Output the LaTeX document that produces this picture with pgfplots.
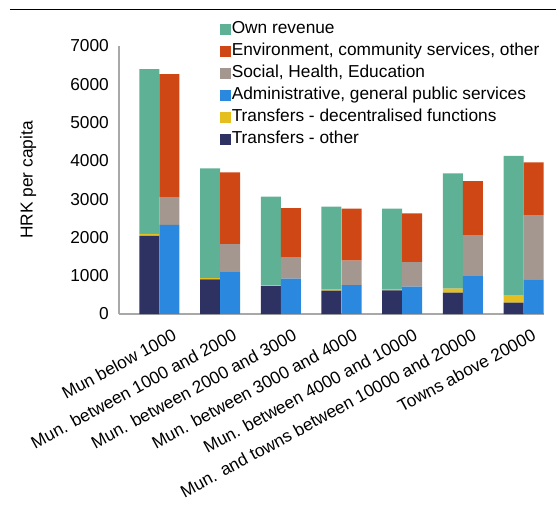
\documentclass[border=0pt]{standalone}
\usepackage{pgfplots}
\pgfplotsset{compat=1.18}
\usepackage{pgfplotstable}
\usepackage{fontspec}
\setmainfont{Liberation Sans}
\usetikzlibrary{calc}
\definecolor{cgreen}{HTML}{5FB195}
\definecolor{corange}{HTML}{CF4715}
\definecolor{cgray}{HTML}{A39790}
\definecolor{cblue}{HTML}{2A89DE}
\definecolor{cyellow}{HTML}{E5BF20}
\definecolor{cnavy}{HTML}{2D3262}
\definecolor{caxis}{HTML}{A8A8A8}
\newcommand\cf{\fontsize{17.3bp}{20bp}\selectfont}

\pgfplotstableread{
x other dec own
0.5 2040 55 4300
1.5 905 35 2865
2.5 730 27 2306
3.5 610 25 2167
4.5 620 33 2097
5.5 557 104 3012
6.5 296 200 3637
}\lefttab
\pgfplotstableread{
x adm soc env
0.83 2330 725 3210
1.83 1115 713 1872
2.83 922 566 1280
3.83 757 635 1358
4.83 714 644 1271
5.83 992 1071 1410
6.83 906 1679 1375
}\righttab

\pgfplotsset{common/.style={
  scale only axis, width=425bp, height=268bp,
  xmin=0, xmax=7, ymin=0, ymax=7000,
  ybar stacked, bar width=20bp,
  at={(0,0)}, anchor=south west,
}}

\begin{document}
\begin{tikzpicture}
\begin{axis}[common, name=ax,
  axis x line*=bottom, axis y line*=left,
  axis line style={draw=caxis, line width=1.2bp},
  major tick length=0pt,
  ytick={0,1000,...,7000},
  scaled y ticks=false,
  /pgf/number format/set thousands separator={},
  /pgf/number format/assume math mode=true,
  yticklabel style={font=\cf, inner sep=0pt, xshift=-10bp},
  xtick={0.87,1.86,2.85,3.85,4.84,5.81,6.79},
  xticklabels={Mun below 1000, Mun. between 1000 and 2000, Mun. between 2000 and 3000, Mun. between 3000 and 4000, Mun. between 4000 and 10000, Mun. and towns between 10000 and 20000, Towns above 20000},
  xticklabel style={font=\cf, inner sep=0pt, yshift=-14bp, rotate=28.5, anchor=north east},
  ylabel={HRK per capita},
  ylabel style={font=\cf, at={(axis description cs:-0.214,0.5)}, anchor=center},
]
\addplot[fill=cnavy, draw=none] table[x=x, y=other]{\lefttab};
\addplot[fill=cyellow, draw=none] table[x=x, y=dec]{\lefttab};
\addplot[fill=cgreen, draw=none] table[x=x, y=own]{\lefttab};
\end{axis}
\begin{axis}[common, hide axis,
  legend style={at={(0.238,1.101)}, anchor=north west, draw=none, fill=none,
    font=\cf, inner sep=0pt, row sep=2.5bp,
    nodes={inner sep=1bp, text height=13bp, text depth=4.5bp}},
  legend cell align=left,
]
\addlegendimage{legend image code/.code={\fill[cgreen] (0bp,-5bp) rectangle (10bp,5bp);}}
\addlegendentry{Own revenue}
\addlegendimage{legend image code/.code={\fill[corange] (0bp,-5bp) rectangle (10bp,5bp);}}
\addlegendentry{Environment, community services, other}
\addlegendimage{legend image code/.code={\fill[cgray] (0bp,-5bp) rectangle (10bp,5bp);}}
\addlegendentry{Social, Health, Education}
\addlegendimage{legend image code/.code={\fill[cblue] (0bp,-5bp) rectangle (10bp,5bp);}}
\addlegendentry{Administrative, general public services}
\addlegendimage{legend image code/.code={\fill[cyellow] (0bp,-5bp) rectangle (10bp,5bp);}}
\addlegendentry{Transfers - decentralised functions}
\addlegendimage{legend image code/.code={\fill[cnavy] (0bp,-5bp) rectangle (10bp,5bp);}}
\addlegendentry{Transfers - other}
\addplot[forget plot, fill=cblue, draw=none] table[x=x, y=adm]{\righttab};
\addplot[forget plot, fill=cgray, draw=none] table[x=x, y=soc]{\righttab};
\addplot[forget plot, fill=corange, draw=none] table[x=x, y=env]{\righttab};
\end{axis}
\draw[black, line width=1.2bp] ($(ax.south west)+(-109bp,304.5bp)$) -- ($(ax.south west)+(437bp,304.5bp)$);
\pgfresetboundingbox
\path[use as bounding box] ($(ax.south west)+(-119bp,-197bp)$) rectangle ($(ax.south west)+(437bp,314bp)$);
\end{tikzpicture}
\end{document}
